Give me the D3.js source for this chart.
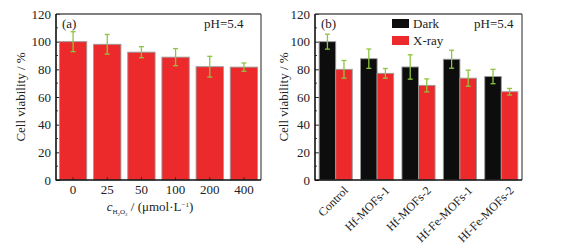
<!DOCTYPE html>
<html><head><meta charset="utf-8">
<script src="https://cdn.jsdelivr.net/npm/d3@7"></script>
<style>body{margin:0;background:#fff}svg{display:block}svg text{font-family:"Liberation Serif","Times New Roman","DejaVu Serif",serif !important;fill:#222}</style>
</head><body><svg id="c" width="570" height="245"></svg>
<script>
const concLabels = ["0","25","50","100","200","400"];
const concValues = [100, 98.1, 92.4, 88.8, 81.9, 81.6];
const concErrors = [7.2, 7.1, 4.0, 6.2, 7.5, 3.0];
const samples = ["Control","Hf-MOFs-1","Hf-MOFs-2","Hf-Fe-MOFs-1","Hf-Fe-MOFs-2"];
const darkValues = [100, 87.7, 81.7, 87.3, 74.8];
const darkErrors = [5.4, 7.0, 8.8, 6.5, 5.2];
const xrayValues = [80.0, 77.1, 68.4, 73.6, 63.8];
const xrayErrors = [6.4, 3.5, 4.7, 5.8, 2.4];
const yTicks = [0,20,40,60,80,100,120];

const RED = "#ec2a2c", DARK = "#0d0d0d", ERR = "#8cc63f", EDGE = "#9a9a9a";
const svg = d3.select("#c");
const plotTop = 14, plotBottom = 180;
const y = d3.scaleLinear().domain([0,120]).range([plotBottom, plotTop]);

function frame(g, x0, x1) {
  const ya = d3.axisLeft(y).tickValues(yTicks).tickSize(-4).tickPadding(5);
  const ax = g.append("g").attr("transform", `translate(${x0},0)`).call(ya);
  ax.attr("font-family", null);
  ax.select(".domain").remove();
  ax.selectAll("text").style("font-size","13px");
  ax.selectAll("line").attr("stroke","#222");
  const minor = d3.range(10,120,20);
  g.selectAll(null).data(minor).enter().append("line")
    .attr("x1",x0).attr("x2",x0+2).attr("y1",d=>y(d)).attr("y2",d=>y(d)).attr("stroke","#444");
  g.append("line").attr("x1",x0).attr("x2",x1).attr("y1",plotTop).attr("y2",plotTop).attr("stroke","#555").attr("stroke-width",1.3);
  g.append("line").attr("x1",x1).attr("x2",x1).attr("y1",plotTop).attr("y2",plotBottom).attr("stroke","#555").attr("stroke-width",1.3);
}
function axesLines(g,x0,x1){
  g.append("line").attr("x1",x0).attr("x2",x0).attr("y1",plotTop).attr("y2",plotBottom+0.5).attr("stroke","#111").attr("stroke-width",1.6);
  g.append("line").attr("x1",x0).attr("x2",x1).attr("y1",plotBottom).attr("y2",plotBottom).attr("stroke","#111").attr("stroke-width",1.6);
}
function errBar(g, cx, v, e) {
  g.append("line").attr("x1",cx).attr("x2",cx).attr("y1",y(v+e)).attr("y2",y(v-e)).attr("stroke",ERR).attr("stroke-width",1.3);
  [v+e, v-e].forEach(t => g.append("line").attr("x1",cx-2.5).attr("x2",cx+2.5).attr("y1",y(t)).attr("y2",y(t)).attr("stroke",ERR).attr("stroke-width",1.3));
}
function ylabel(x) {
  svg.append("text").attr("transform",`translate(${x},97) rotate(-90)`).attr("text-anchor","middle")
    .style("font-size","13px").text("Cell viability / %");
}

// Panel (a)
{
  const x0 = 56, x1 = 261;
  const g = svg.append("g");
  frame(g, x0, x1);
  const x = d3.scaleBand().domain(concLabels).range([x0, x1]).paddingInner(0.2).paddingOuter(0.1);
  g.selectAll(".ba").data(concLabels).enter().append("rect")
    .attr("x",d=>x(d)).attr("width",x.bandwidth())
    .attr("y",(d,i)=>y(concValues[i])).attr("height",(d,i)=>plotBottom-y(concValues[i]))
    .attr("fill",RED).attr("stroke",EDGE).attr("stroke-width",0.9);
  concLabels.forEach((d,i)=>errBar(g, x(d)+x.bandwidth()/2, concValues[i], concErrors[i]));
  const xa = d3.axisBottom(x).tickSize(-3).tickPadding(5);
  const ax = g.append("g").attr("transform",`translate(0,${plotBottom})`).call(xa);
  ax.attr("font-family", null);
  ax.select(".domain").remove();
  ax.selectAll("line").attr("stroke","#333");
  ax.selectAll("text").style("font-size","13px");
  axesLines(g,x0,x1);
  g.append("text").attr("x",62).attr("y",28).style("font-size","13px").text("(a)");
  g.append("text").attr("x",204).attr("y",28).style("font-size","13px").text("pH=5.4");
  const t = g.append("text").attr("x",150).attr("y",211).attr("text-anchor","middle").style("font-size","13px");
  t.append("tspan").style("font-style","italic").text("c");
  t.append("tspan").attr("dy",3).style("font-size","7px").text("H");
  t.append("tspan").attr("dy",1.5).style("font-size","5px").text("2");
  t.append("tspan").attr("dy",-1.5).style("font-size","7px").text("O");
  t.append("tspan").attr("dy",1.5).style("font-size","5px").text("2");
  t.append("tspan").attr("dy",-4.5).text(" / (μmol·L");
  t.append("tspan").attr("dy",-4).style("font-size","7px").text("−1");
  t.append("tspan").attr("dy",4).text(")");
  ylabel(25);
}

// Panel (b)
{
  const x0 = 315, x1 = 522;
  const g = svg.append("g");
  frame(g, x0, x1);
  const x = d3.scaleBand().domain(samples).range([x0, x1]).paddingInner(0.2).paddingOuter(0.1);
  const xs = d3.scaleBand().domain(["dark","xray"]).range([0, x.bandwidth()]);
  samples.forEach((s,i)=>{
    g.append("rect").attr("x",x(s)).attr("width",xs.bandwidth()).attr("y",y(darkValues[i])).attr("height",plotBottom-y(darkValues[i]))
      .attr("fill",DARK).attr("stroke",EDGE).attr("stroke-width",0.9);
    g.append("rect").attr("x",x(s)+xs("xray")).attr("width",xs.bandwidth()).attr("y",y(xrayValues[i])).attr("height",plotBottom-y(xrayValues[i]))
      .attr("fill",RED).attr("stroke",EDGE).attr("stroke-width",0.9);
    errBar(g, x(s)+xs.bandwidth()/2, darkValues[i], darkErrors[i]);
    errBar(g, x(s)+xs("xray")+xs.bandwidth()/2, xrayValues[i], xrayErrors[i]);
  });
  const xa = d3.axisBottom(x).tickSize(0).tickPadding(6);
  const ax = g.append("g").attr("transform",`translate(0,${plotBottom})`).call(xa);
  ax.attr("font-family", null);
  ax.select(".domain").remove();
  ax.selectAll("text").style("font-size","12px")
    .attr("text-anchor","end").attr("dy","0.35em").attr("transform","translate(6,4) rotate(-45)");
  axesLines(g,x0,x1);
  g.append("text").attr("x",321).attr("y",28).style("font-size","13px").text("(b)");
  g.append("text").attr("x",474).attr("y",28).style("font-size","13px").text("pH=5.4");
  const leg = [["Dark",DARK],["X-ray",RED]];
  leg.forEach((l,i)=>{
    g.append("rect").attr("x",392).attr("y",19+i*17).attr("width",17).attr("height",9).attr("fill",l[1]);
    g.append("text").attr("x",413).attr("y",28+i*17).style("font-size","13px").text(l[0]);
  });
  ylabel(288);
}
</script></body></html>
